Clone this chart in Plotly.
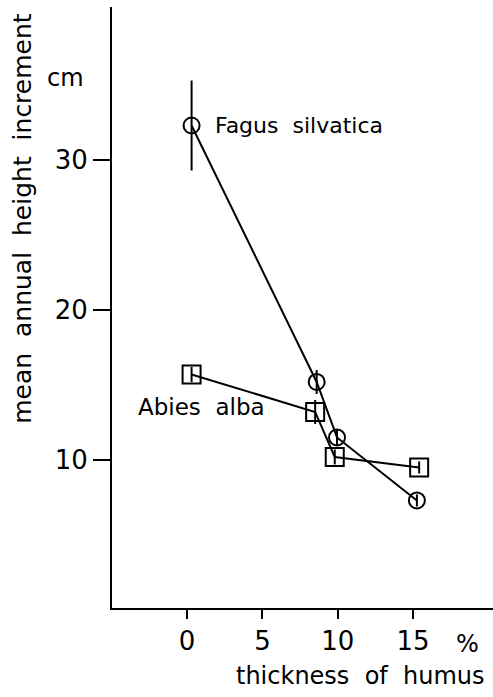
import plotly.graph_objects as go

# Data
fagus_x = [0.3, 8.6, 9.95, 15.25]
fagus_y = [32.3, 15.2, 11.5, 7.3]
fagus_err = [3.0, 0.8, 0.5, 0.4]

abies_x = [0.3, 8.5, 9.8, 15.4]
abies_y = [15.7, 13.2, 10.2, 9.5]
abies_err = [0.5, 0.8, 0.5, 0.4]

x_ticks = [0, 5, 10, 15]
y_ticks = [10, 20, 30]

FONT = "DejaVu Sans"
NB = "\u00a0"

fig = go.Figure()

fig.add_trace(go.Scatter(
    x=fagus_x, y=fagus_y, mode="lines+markers",
    line=dict(color="black", width=2),
    marker=dict(symbol="circle-open", size=16, color="black", line=dict(width=2)),
    error_y=dict(type="data", array=fagus_err, visible=True, color="black", thickness=2, width=0),
    showlegend=False,
))
fig.add_trace(go.Scatter(
    x=abies_x, y=abies_y, mode="lines+markers",
    line=dict(color="black", width=2),
    marker=dict(symbol="square-open", size=18, color="black", line=dict(width=2)),
    error_y=dict(type="data", array=abies_err, visible=True, color="black", thickness=2, width=0),
    showlegend=False,
))

annotations = [
    dict(x=1.7, y=32.3, xref="x", yref="y", text="Fagus" + NB * 2 + "silvatica",
         showarrow=False, xanchor="left", yanchor="middle", font=dict(size=22)),
    dict(x=-3.38, y=13.5, xref="x", yref="y", text="Abies" + NB * 2 + "alba",
         showarrow=False, xanchor="left", yanchor="middle", font=dict(size=23)),
    dict(x=-0.121, y=0.882, xref="paper", yref="paper", text="cm",
         showarrow=False, xanchor="center", yanchor="middle", font=dict(size=24)),
    dict(x=0.932, y=-0.06, xref="paper", yref="paper", text="%",
         showarrow=False, xanchor="center", yanchor="middle", font=dict(size=24)),
    dict(x=-0.234, y=0.649, xref="paper", yref="paper",
         text=("mean" + NB * 2 + "annual" + NB * 2 + "height" + NB * 2 + "increment"),
         textangle=-90, showarrow=False, xanchor="center", yanchor="middle", font=dict(size=25)),
    dict(x=0.651, y=-0.113, xref="paper", yref="paper",
         text=("thickness" + NB * 2 + "of" + NB * 2 + "humus"),
         showarrow=False, xanchor="center", yanchor="middle", font=dict(size=24)),
]

fig.update_layout(
    width=493, height=697,
    margin=dict(l=112, r=0, t=7, b=89),
    paper_bgcolor="white", plot_bgcolor="white",
    font=dict(family=FONT, color="black", size=24),
    annotations=annotations,
    xaxis=dict(range=[-4.98, 20.3], tickvals=x_ticks, ticktext=[str(v) for v in x_ticks],
               showgrid=False, zeroline=False, showline=True, linecolor="black", linewidth=2,
               ticks="outside", ticklen=9, tickwidth=2, tickcolor="black",
               tickfont=dict(size=26), fixedrange=True),
    yaxis=dict(range=[0.13, 40.2], tickvals=y_ticks, ticktext=[str(v) for v in y_ticks],
               showgrid=False, zeroline=False, showline=True, linecolor="black", linewidth=2,
               ticks="outside", ticklen=17, tickwidth=2, tickcolor="black",
               tickfont=dict(size=26), fixedrange=True),
)

fig.write_html("out.html", config={"displayModeBar": False},
               post_script="document.body.style.margin='0';document.body.style.overflow='hidden';")
